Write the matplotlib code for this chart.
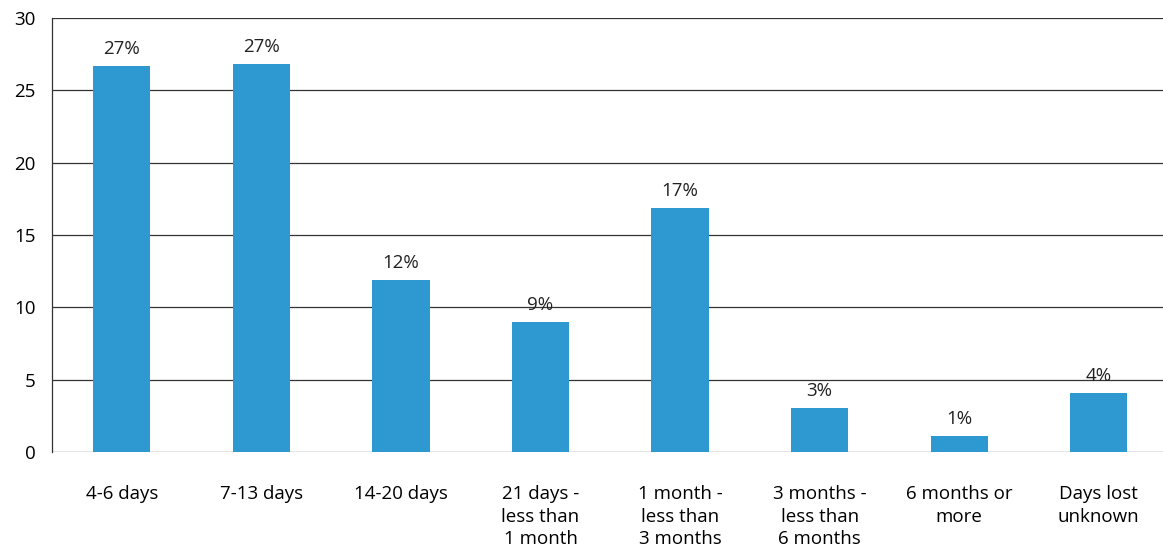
import matplotlib.pyplot as plt

plt.rcParams['font.family'] = ['Open Sans', 'DejaVu Sans']

categories = ['4-6 days', '7-13 days', '14-20 days', '21 days -\nless than\n1 month',
              '1 month -\nless than\n3 months', '3 months -\nless than\n6 months',
              '6 months or\nmore', 'Days lost\nunknown']
values = [26.7, 26.8, 11.9, 9.0, 16.9, 3.05, 1.1, 4.1]
labels = ['27%', '27%', '12%', '9%', '17%', '3%', '1%', '4%']

fig = plt.figure(figsize=(11.63, 5.49), dpi=100)
ax = fig.add_axes([52 / 1163, 1 - 452 / 549, 1111 / 1163, 434 / 549])

x = range(len(categories))
ax.bar(x, values, width=0.41, color='#2e98d0', zorder=3)
for i, (v, t) in enumerate(zip(values, labels)):
    ax.text(i, v + 0.55, t, ha='center', va='bottom', fontsize=13.5, color='#222222')

ax.set_ylim(0, 30)
ax.set_xlim(-0.5, 7.46)
ax.set_yticks(range(0, 31, 5))
ax.set_xticks(list(x))
ax.set_xticklabels(categories, fontsize=13.5, linespacing=1.3)
ax.tick_params(axis='y', labelsize=13.5, length=0, pad=12)
ax.tick_params(axis='x', length=0, pad=24)
ax.yaxis.grid(True, color='#333333', linewidth=0.9, zorder=0)
for s in ['top', 'right', 'bottom']:
    ax.spines[s].set_visible(False)
ax.spines['left'].set_color('#333333')
ax.spines['left'].set_linewidth(0.9)

fig.savefig('out.png', dpi=100)
